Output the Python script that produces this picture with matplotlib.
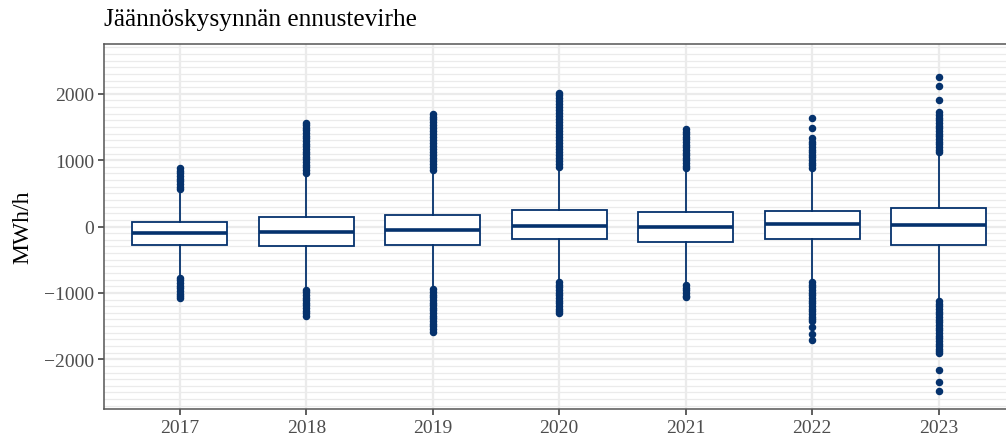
import numpy as np
import matplotlib.pyplot as plt
from matplotlib.ticker import MultipleLocator

plt.rcParams['font.family'] = ['Liberation Serif', 'DejaVu Serif']

### ~~~~~~~~~~~~~~~~~~~~ data ~~~~~~~~~~~~~~~~~~~~ ###
years = ['2017', '2018', '2019', '2020', '2021', '2022', '2023']
q1 = [-272, -292, -272, -192, -230, -192, -272]
median = [-103, -78, -53, 12, -12, 38, 23]
q3 = [70, 148, 178, 249, 214, 238, 279]
whislo = [-735, -930, -925, -820, -862, -820, -1100]
whishi = [535, 790, 835, 880, 860, 865, 1100]

fliers_hi = [
    [560, 600, 640, 680, 720, 760, 800, 840, 880],
    [810, 850, 890, 930, 970, 1010, 1050, 1090, 1130, 1170, 1210, 1250,
     1290, 1330, 1370, 1410, 1450, 1490, 1530, 1555],
    [852, 895, 940, 985, 1030, 1075, 1120, 1165, 1210, 1255, 1300, 1345,
     1390, 1435, 1480, 1525, 1570, 1615, 1655, 1690],
    [900, 945, 990, 1035, 1080, 1125, 1170, 1215, 1260, 1305, 1350, 1395,
     1440, 1485, 1530, 1575, 1620, 1665, 1710, 1755, 1800, 1845, 1890,
     1935, 1975, 2006],
    [875, 915, 955, 995, 1035, 1075, 1115, 1155, 1195, 1235, 1275, 1315,
     1355, 1395, 1430, 1463],
    [880, 920, 960, 1000, 1040, 1080, 1120, 1160, 1200, 1240, 1280, 1335,
     1480, 1637],
    [1116, 1160, 1200, 1240, 1280, 1320, 1360, 1400, 1440, 1480, 1520,
     1560, 1600, 1640, 1680, 1727, 1903, 2124, 2250],
]
fliers_lo = [
    [-770, -810, -850, -890, -930, -970, -1010, -1050, -1078],
    [-950, -990, -1030, -1070, -1110, -1150, -1190, -1230, -1270, -1310,
     -1350],
    [-943, -985, -1025, -1065, -1105, -1145, -1185, -1225, -1265, -1305,
     -1345, -1385, -1425, -1465, -1505, -1545, -1590],
    [-837, -877, -917, -957, -997, -1037, -1077, -1117, -1157, -1197,
     -1237, -1277, -1305],
    [-882, -922, -962, -1002, -1040, -1063],
    [-837, -877, -917, -957, -997, -1037, -1077, -1117, -1157, -1197,
     -1237, -1277, -1317, -1357, -1395, -1421, -1521, -1621, -1707],
    [-1124, -1164, -1204, -1244, -1284, -1324, -1364, -1404, -1444, -1484,
     -1524, -1564, -1604, -1644, -1684, -1724, -1764, -1804, -1844, -1880,
     -1908, -2164, -2341, -2481],
]

### ~~~~~~~~~~~~~~~~~~~~ plot ~~~~~~~~~~~~~~~~~~~~ ###
navy = '#05326D'
grid_col = '#EBEBEB'

stats = []
for i, yr in enumerate(years):
    stats.append(dict(label=yr, med=median[i], q1=q1[i], q3=q3[i],
                      whislo=whislo[i], whishi=whishi[i],
                      fliers=fliers_hi[i] + fliers_lo[i]))

fig = plt.figure(figsize=(10.06, 4.39), dpi=100)
ax = fig.add_axes([0.1034, 0.066, 0.905, 0.8315])

ax.bxp(stats, positions=np.arange(1, len(years) + 1), widths=0.75,
       showcaps=False, patch_artist=True,
       boxprops=dict(facecolor='white', edgecolor=navy, linewidth=1.3),
       medianprops=dict(color=navy, linewidth=2.6),
       whiskerprops=dict(color=navy, linewidth=1.3),
       flierprops=dict(marker='o', markerfacecolor=navy, markeredgecolor=navy,
                       markersize=4.4, linestyle='none'),
       zorder=3)

ax.set_xlim(0.4, 7.6)
ax.set_ylim(-2750, 2750)
ax.yaxis.set_major_locator(MultipleLocator(1000))
ax.yaxis.set_minor_locator(MultipleLocator(100))
ax.grid(which='major', color=grid_col, linewidth=1.6, zorder=0)
ax.grid(which='minor', axis='y', color=grid_col, linewidth=0.9, zorder=0)
ax.set_axisbelow(True)

ax.tick_params(axis='both', which='major', length=4, width=1.1,
               color='#333333', labelsize=14, labelcolor='#4D4D4D', pad=3)
ax.tick_params(axis='y', which='minor', length=0)
for s in ax.spines.values():
    s.set_color('#555555')
    s.set_linewidth(1.1)

ax.set_ylabel('MWh/h', fontsize=17, labelpad=8)
fig.text(0.1034, 0.954, 'Jäännöskysynnän ennustevirhe', fontsize=18.3,
         ha='left', va='center')

plt.savefig('out.png', dpi=100)
